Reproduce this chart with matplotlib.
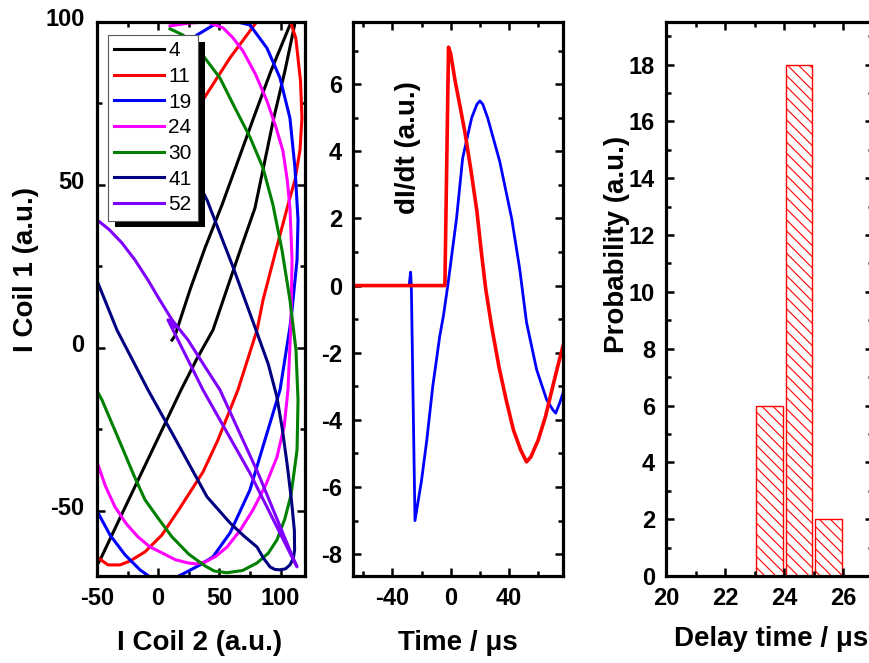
import matplotlib
matplotlib.use("Agg")
import matplotlib.pyplot as plt
from matplotlib.ticker import MultipleLocator
from matplotlib.patches import Rectangle
from matplotlib.transforms import ScaledTranslation

# --- coil current trajectories (I Coil 2, I Coil 1), one per delay setting ---
delay_labels = ["4", "11", "19", "24", "30", "41", "52"]
curve_colors = ["black", "red", "blue", "magenta", "green", "navy", "#8000ff"]

coil2_4 = [11.3, 13.7, 26.0, 38.3, 52.2, 78.3, 92.2, 107.7, 110.5, 111.5, 103.6, 94.7,
           79.1, 68.0, 58.7, 44.8, 31.0, 18.7, -12.4, -31.2, -47.5, -52.5]
coil1_4 = [2.4, 3.7, 17.8, 30.7, 43.9, 70.9, 85.0, 99.1, 102.0, 99.1, 85.0, 70.9,
           42.9, 31.0, 20.8, 5.5, -3.8, -12.9, -37.4, -52.2, -65.1, -68.1]

coil2_11 = [21.9, 36.6, 58.7, 81.6, 93.0, 107.7, 112.5, 116.3, 117.5, 115.9, 111.8, 106.1,
            96.3, 85.7, 80.8, 65.2, 48.9, 36.6, 17.8, 3.1, -10.8, -23.0, -31.2, -41.0,
            -49.2, -54.1]
coil1_11 = [65.3, 76.1, 89.0, 100.6, 105.2, 100.6, 95.0, 82.0, 70.5, 60.7, 51.5, 43.9,
            30.0, 14.7, 5.5, -12.9, -28.2, -38.1, -49.1, -57.4, -62.6, -65.4, -66.6, -66.6,
            -64.4, -62.9]

coil2_19 = [21.9, 31.7, 38.3, 48.1, 61.2, 75.0, 88.9, 99.6, 107.7, 111.8, 114.3, 113.5,
            109.4, 107.7, 99.6, 87.3, 75.0, 58.7, 44.8, 34.2, 15.4, 4.0, -6.7, -14.9,
            -27.1, -39.4, -49.2, -54.1]
coil1_19 = [93.0, 96.0, 97.5, 99.7, 100.3, 99.1, 92.0, 82.8, 70.5, 55.2, 39.3, 27.0,
            11.6, 6.4, -12.9, -28.2, -43.6, -56.8, -64.1, -66.6, -70.3, -71.8, -70.3, -68.1,
            -63.5, -57.4, -50.6, -47.6]

coil2_24 = [9.7, 26.0, 39.9, 53.0, 61.0, 69.3, 79.5, 88.9, 96.0, 102.0, 105.5, 107.7,
            109.4, 108.6, 106.1, 103.0, 97.1, 88.0, 77.5, 67.0, 56.3, 47.0, 38.3, 31.0,
            24.4, 14.0, 3.1, -7.0, -16.5, -26.0, -35.3, -43.0, -49.2, -53.3]
coil1_24 = [98.8, 99.7, 100.0, 98.2, 95.2, 91.1, 84.0, 75.8, 68.0, 60.4, 51.5, 42.9,
            27.0, 8.6, -12.9, -24.0, -33.5, -42.0, -49.7, -56.0, -61.1, -64.0, -65.7, -66.3,
            -66.0, -65.0, -62.9, -61.0, -58.0, -54.0, -48.8, -42.5, -35.9, -31.3]

coil2_30 = [9.7, 20.3, 37.5, 50.5, 62.8, 75.0, 85.7, 93.8, 101.2, 107.7, 112.6, 114.3,
            113.5, 108.6, 103.5, 97.1, 90.0, 80.8, 69.0, 56.3, 46.0, 38.3, 25.0, 11.3,
            1.0, -10.8, -20.0, -29.6, -45.9, -52.5]
coil1_30 = [97.9, 96.0, 89.3, 82.8, 73.6, 64.7, 55.2, 43.9, 30.0, 14.7, -0.6, -16.0,
            -31.3, -45.1, -52.5, -58.9, -63.0, -66.0, -68.3, -69.0, -68.5, -66.9, -63.3, -58.0,
            -52.8, -46.6, -39.0, -30.4, -16.0, -11.4]

coil2_41 = [30.1, 36.6, 39.9, 61.2, 80.8, 90.0, 97.0, 101.5, 105.5, 109.0, 111.3, 111.5,
            110.5, 107.7, 104.0, 99.6, 95.5, 91.4, 86.0, 80.8, 70.0, 58.7, 39.9, 11.3,
            -8.3, -33.7, -49.2, -53.3]
coil1_41 = [51.5, 47.8, 45.4, 24.8, 4.6, -5.0, -15.0, -25.0, -36.0, -47.0, -56.0, -62.0,
            -64.5, -66.6, -67.8, -68.1, -68.0, -67.2, -64.5, -61.1, -57.7, -53.7, -45.7, -26.1,
            -12.9, 5.5, 19.9, 22.4]

coil2_52 = [13.7, 8.0, 11.3, 32.5, 36.6, 75.0, 111.8, 113.5, 110.2, 81.6, 50.5, 38.3,
            24.4, 11.3, 0.0, -8.3, -19.0, -29.6, -40.0, -50.0, -55.7]
coil1_52 = [6.4, 8.6, 6.1, -9.8, -12.9, -38.4, -66.0, -67.2, -64.4, -38.4, -12.9, -5.8,
            2.4, 8.6, 15.5, 20.8, 27.0, 32.2, 36.3, 39.3, 40.8]

coil2_curves = [coil2_4, coil2_11, coil2_19, coil2_24, coil2_30, coil2_41, coil2_52]
coil1_curves = [coil1_4, coil1_11, coil1_19, coil1_24, coil1_30, coil1_41, coil1_52]

# --- dI/dt waveforms ---
time_red = [-67, -4, -1.5, 0, 3, 7, 10, 14, 18, 21, 24, 28, 33, 38, 43, 48, 52, 55,
            60, 65, 70, 74, 77]
didt_red = [0, 0, 7.1, 6.9, 6.1, 5.2, 4.5, 3.4, 2.2, 1.0, -0.1, -1.2, -2.4, -3.4, -4.3,
            -4.9, -5.25, -5.1, -4.6, -3.9, -3.0, -2.3, -1.8]

time_blue = [-67, -28.5, -27.5, -27, -24.5, -20, -16.4, -12.3, -7.5, -5, -2, 4, 8.2,
             14.4, 18, 20, 22, 25.3, 33.6, 41.8, 47.3, 52, 58.9, 65.8, 70, 72, 74.7, 77]
didt_blue = [0, 0, 0.4, 0, -7.0, -5.8, -4.6, -3.0, -1.5, -0.9, 0, 2.0, 3.8, 5.0, 5.4,
             5.5, 5.4, 5.0, 3.7, 2.0, 0.5, -1.1, -2.5, -3.4, -3.7, -3.8, -3.5, -3.2]

# --- delay time histogram ---
delay_time = [23.5, 24.5, 25.5]
probability = [6, 18, 2]

plt.rcParams["font.family"] = ["Liberation Sans", "DejaVu Sans"]
plt.rcParams["font.weight"] = "bold"
plt.rcParams["axes.unicode_minus"] = False
plt.rcParams["hatch.linewidth"] = 0.8

W, H = 870, 663
fig = plt.figure(figsize=(W / 100, H / 100), dpi=100)


def add_axes_px(left, right, top=22, bottom=576):
    return fig.add_axes([left / W, 1 - bottom / H, (right - left) / W, (bottom - top) / H])


def style(ax):
    for s in ax.spines.values():
        s.set_linewidth(2.3)
    ax.tick_params(which="both", direction="in", top=True, right=True,
                   width=1.8, labelsize=17, pad=8)
    ax.tick_params(which="major", length=5.5)
    ax.tick_params(which="minor", length=3.5)


def fig_text(px, py, s, **kw):
    fig.text(px / W, 1 - py / H, s, ha="center", va="center",
             fontsize=20, fontweight="bold", **kw)


# left: coil current trajectories
ax1 = add_axes_px(97, 305)
for xs, ys, c, lab in zip(coil2_curves, coil1_curves, curve_colors, delay_labels):
    ax1.plot(xs, ys, color=c, lw=2.2, label=lab, solid_joinstyle="round")
ax1.set_xlim(-50, 120)
ax1.set_ylim(-70, 100)
ax1.xaxis.set_major_locator(MultipleLocator(50))
ax1.xaxis.set_minor_locator(MultipleLocator(25))
ax1.yaxis.set_major_locator(MultipleLocator(50))
ax1.yaxis.set_minor_locator(MultipleLocator(25))
style(ax1)
ax1.tick_params(axis="y", pad=9)
for lab in ax1.get_yticklabels():
    lab.set_transform(lab.get_transform() + ScaledTranslation(0, 5 / 100, fig.dpi_scale_trans))

leg = ax1.legend(loc="upper left", bbox_to_anchor=((108 - 97) / 208, (576 - 35) / 554),
                 borderaxespad=0, fancybox=False, framealpha=1, edgecolor="0.35",
                 prop={"weight": "normal", "size": 15}, handlelength=2.4,
                 handletextpad=0.2, labelspacing=0.32, borderpad=0.3)
leg.get_frame().set_linewidth(0.8)

# middle: dI/dt traces
ax2 = add_axes_px(353, 563)
ax2.plot(time_blue, didt_blue, color="blue", lw=2.0)
ax2.plot(time_red, didt_red, color="red", lw=2.6)
ax2.set_xlim(-67, 77)
ax2.set_ylim(-8.65, 7.85)
ax2.xaxis.set_major_locator(MultipleLocator(40))
ax2.xaxis.set_minor_locator(MultipleLocator(20))
ax2.yaxis.set_major_locator(MultipleLocator(2))
ax2.yaxis.set_minor_locator(MultipleLocator(1))
style(ax2)

# right: delay time distribution
ax3 = add_axes_px(666, 873)
ax3.bar(delay_time, probability, width=0.9, facecolor="white", edgecolor="red",
        hatch="\\\\\\", linewidth=1.0)
ax3.set_xlim(20, 27)
ax3.set_ylim(0, 19.5)
ax3.xaxis.set_major_locator(MultipleLocator(2))
ax3.xaxis.set_minor_locator(MultipleLocator(1))
ax3.yaxis.set_major_locator(MultipleLocator(2))
ax3.yaxis.set_minor_locator(MultipleLocator(1))
style(ax3)

fig_text(200, 643, "I Coil 2 (a.u.)")
fig_text(26, 270, "I Coil 1 (a.u.)", rotation=90)
fig_text(458, 643, "Time / \u03bcs")
fig_text(408, 148, "dI/dt (a.u.)", rotation=90)
fig_text(771, 639, "Delay time / \u03bcs")
fig_text(617, 244, "Probability (a.u.)", rotation=90)

# black drop shadow behind the legend box
fig.canvas.draw()
bb = leg.get_window_extent()
inv = ax1.transAxes.inverted()
x0, y0 = inv.transform((bb.x0 + 7, bb.y0 - 7))
x1, y1 = inv.transform((bb.x1 + 7, bb.y1 - 7))
ax1.add_patch(Rectangle((x0, y0), x1 - x0, y1 - y0, transform=ax1.transAxes,
                        facecolor="black", edgecolor="none", zorder=4.9, clip_on=False))

fig.savefig("out.png", dpi=100)
